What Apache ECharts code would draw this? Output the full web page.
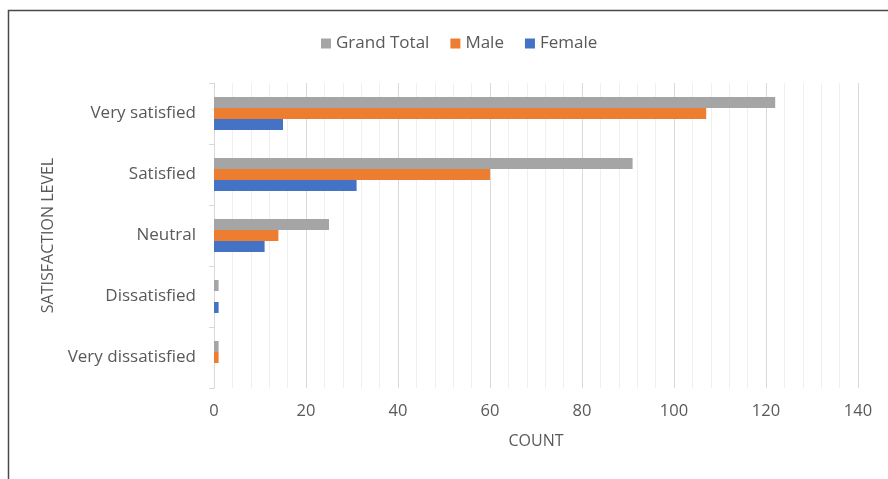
<!DOCTYPE html>
<html>
<head>
<meta charset="utf-8">
<script src="https://cdn.jsdelivr.net/npm/echarts@6/dist/echarts.min.js"></script>
<style>
  html, body { margin: 0; padding: 0; background: #fff; }
  #chart { width: 888px; height: 479px; }
</style>
</head>
<body>
<div id="chart"></div>
<script>
// Satisfaction levels, listed bottom to top along the category axis
const levels = ['Very dissatisfied', 'Dissatisfied', 'Neutral', 'Satisfied', 'Very satisfied'];
const grandTotal = [1, 1, 25, 91, 122];
const male = [1, 0, 14, 60, 107];
const female = [0, 1, 11, 31, 15];
const countTicks = [0, 20, 40, 60, 80, 100, 120, 140];

const textColor = '#595959';
const font = '"Open Sans", "Noto Sans", sans-serif';

const chart = echarts.init(document.getElementById('chart'));
chart.setOption({
  animation: false,
  textStyle: { fontFamily: font },
  graphic: [{
    type: 'rect',
    shape: { x: 8.5, y: 10.5, width: 900, height: 500 },
    style: { fill: 'none', stroke: '#4a4a4a', lineWidth: 1.5 },
    silent: true
  }],
  legend: {
    data: ['Grand Total', 'Male', 'Female'],
    top: 30,
    left: 316,
    itemWidth: 10,
    itemHeight: 10,
    itemGap: 21,
    icon: 'rect',
    textStyle: { color: textColor, fontSize: 17, fontFamily: font }
  },
  grid: { left: 214, right: 30, top: 83, bottom: 91 },
  xAxis: {
    type: 'value',
    min: countTicks[0],
    max: countTicks[countTicks.length - 1],
    interval: 20,
    name: 'COUNT',
    nameLocation: 'middle',
    nameGap: 45,
    nameTextStyle: { color: textColor, fontSize: 16, fontFamily: font },
    axisLine: { show: false },
    axisTick: { show: false },
    axisLabel: { color: textColor, fontSize: 16.5, margin: 15, fontFamily: font },
    splitLine: { show: true, lineStyle: { color: '#d9d9d9', width: 1 } },
    minorTick: { show: false, splitNumber: 5 },
    minorSplitLine: { show: true, lineStyle: { color: '#efefef', width: 1 } }
  },
  yAxis: {
    type: 'category',
    data: levels,
    name: 'SATISFACTION LEVEL',
    nameLocation: 'middle',
    nameRotate: 90,
    nameGap: 158,
    nameTextStyle: { color: textColor, fontSize: 16, fontFamily: font },
    axisLine: { show: true, lineStyle: { color: '#d9d9d9' } },
    axisTick: { show: true, length: 5, lineStyle: { color: '#d9d9d9' } },
    axisLabel: { color: textColor, fontSize: 17, margin: 18, fontFamily: font },
    splitLine: { show: false }
  },
  series: [
    { name: 'Grand Total', type: 'bar', data: grandTotal, barGap: '0%', barCategoryGap: '46%',
      itemStyle: { color: '#A5A5A5' } },
    { name: 'Male', type: 'bar', data: male, barGap: '0%', barCategoryGap: '46%',
      itemStyle: { color: '#ED7D31' } },
    { name: 'Female', type: 'bar', data: female, barGap: '0%', barCategoryGap: '46%',
      itemStyle: { color: '#4472C4' } }
  ]
});
</script>
</body>
</html>
